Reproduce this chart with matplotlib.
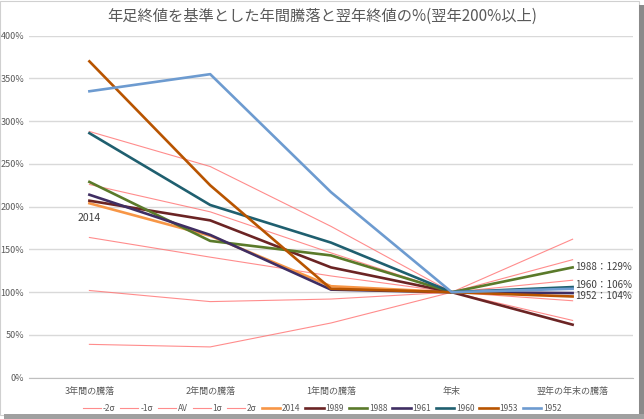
import matplotlib
matplotlib.use("Agg")
import matplotlib.pyplot as plt
from matplotlib.patches import Rectangle
import numpy as np

plt.rcParams['font.family'] = ['Noto Sans CJK JP', 'DejaVu Sans']

categories = ["3年間の騰落", "2年間の騰落", "1年間の騰落", "年末", "翌年の年末の騰落"]

# σ bands (%)
band_labels = ["-2σ", "-1σ", "AV", "1σ", "2σ"]
band_m2 = [39, 36, 64, 100, 67]
band_m1 = [102, 89, 92, 100, 90]
band_av = [164, 141, 119, 100, 114]
band_p1 = [226, 194, 146, 100, 138]
band_p2 = [288, 247, 177, 100, 162]

# years (%), NaN = no data
y2014 = [204, 166, 107, 100, np.nan]
y1989 = [207, 184, 129, 100, 62]
y1988 = [229, 160, 143, 100, 129]
y1961 = [214, 167, 103, 100, 99]
y1960 = [286, 202, 158, 100, 106]
y1953 = [370, 225, 104, 100, 95]
y1952 = [335, 355, 217, 100, 104]

year_labels = ["2014", "1989", "1988", "1961", "1960", "1953", "1952"]
year_colors = ["#F79646", "#6B2424", "#5A7A2A", "#3F2E63", "#1F5F6F", "#B85400", "#6D9BD0"]

end_notes = ["1988：129%", "1960：106%", "1952：104%"]
end_note_y = [129, 108, 95]

fig = plt.figure(figsize=(6.44, 4.19), dpi=100)
ax = fig.add_axes([29 / 644, 1 - 377.7 / 419, (633 - 29) / 644, (377.7 - 35.7) / 419])

x = np.arange(len(categories))
for lab, vals in zip(band_labels, [band_m2, band_m1, band_av, band_p1, band_p2]):
    ax.plot(x, vals, color="#FF7070", lw=0.8, alpha=0.8, label=lab)

for lab, vals, c in zip(year_labels, [y2014, y1989, y1988, y1961, y1960, y1953, y1952], year_colors):
    ax.plot(x, vals, color=c, lw=1.9, label=lab)

ax.text(0, 187, "2014", ha="center", va="center", fontsize=7.5, color="#404040")
for t, yv in zip(end_notes, end_note_y):
    ax.text(x[-1] + 0.02, yv, t, ha="left", va="center", fontsize=7, color="#404040")

ax.set_xlim(-0.5, 4.5)
ax.set_ylim(0, 400)
ax.set_yticks(range(0, 401, 50))
ax.set_yticklabels([f"{v}%" for v in range(0, 401, 50)])
ax.set_xticks(x)
ax.set_xticklabels(categories)
ax.tick_params(length=0, labelsize=6.5, colors="#595959")
ax.tick_params(axis="x", pad=7)
ax.grid(axis="y", color="#D9D9D9", lw=1)
ax.set_axisbelow(True)
for s in ["top", "right", "left"]:
    ax.spines[s].set_visible(False)
ax.spines["bottom"].set_color("#BFBFBF")

fig.text(0.5, 1 - 16 / 419, "年足終値を基準とした年間騰落と翌年終値の%(翌年200%以上)",
         ha="center", va="center", fontsize=11, color="#595959")

leg = fig.legend(loc="center", bbox_to_anchor=(0.5, 1 - 408 / 419), ncol=12, frameon=False,
                 fontsize=6, handlelength=2.2, columnspacing=0.6, handletextpad=0.2)
for t in leg.get_texts():
    t.set_color("#595959")

# screenshot frame and shadow
fig.patches.append(Rectangle((0, 4 / 419), 639 / 644, 414 / 419, transform=fig.transFigure,
                             fill=False, ec="#D0D0D0", lw=0.8))
fig.patches.append(Rectangle((639 / 644, 0), 5 / 644, 414 / 419, transform=fig.transFigure,
                             color="#8A8A8A", lw=0))
fig.patches.append(Rectangle((4 / 644, 0), 640 / 644, 5 / 419, transform=fig.transFigure,
                             color="#A0A0A0", lw=0))

fig.savefig("out.png", dpi=100)
plt.close(fig)
